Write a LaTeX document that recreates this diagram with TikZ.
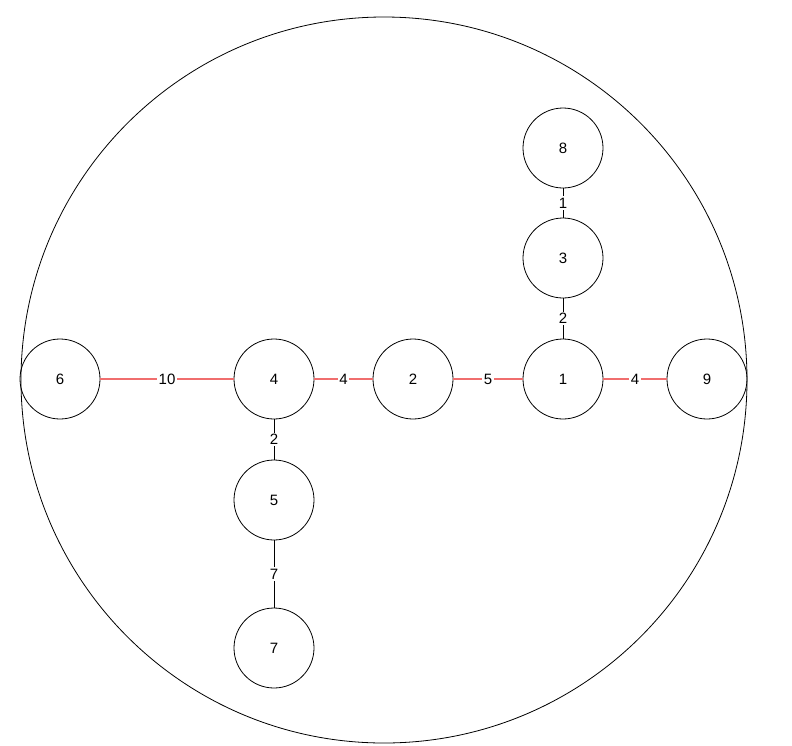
\documentclass[tikz,border=0pt]{standalone}
\usepackage{fontspec}
\setmainfont{Liberation Sans}
\begin{document}
\begin{tikzpicture}[x=1pt,y=-1pt,
  vert/.style={circle,draw=black,line width=0.8pt,minimum size=80pt,inner sep=0pt,font=\fontsize{15}{17}\selectfont},
  redge/.style={color={rgb,255:red,240;green,110;blue,110},line width=1.2pt},
  bedge/.style={color=black,line width=0.8pt},
  wlabel/.style={fill=white,text=black,inner sep=1.5pt,font=\fontsize{15}{17}\selectfont}]
\useasboundingbox (0,0) rectangle (792,745);
\draw[line width=0.8pt] (384,380) circle (363);
\node[vert] (n8) at (563,148) {8};
\node[vert] (n3) at (563,258) {3};
\node[vert] (n1) at (563,379) {1};
\node[vert] (n9) at (707,379) {9};
\node[vert] (n2) at (413,379) {2};
\node[vert] (n4) at (274,379) {4};
\node[vert] (n6) at (60,379) {6};
\node[vert] (n5) at (274,500) {5};
\node[vert] (n7) at (274,648) {7};
\draw[bedge] (n8) -- node[wlabel] {1} (n3);
\draw[bedge] (n3) -- node[wlabel] {2} (n1);
\draw[redge] (n1) -- node[wlabel] {4} (n9);
\draw[redge] (n2) -- node[wlabel] {5} (n1);
\draw[redge] (n4) -- node[wlabel] {4} (n2);
\draw[redge] (n6) -- node[wlabel] {10} (n4);
\draw[bedge] (n4) -- node[wlabel] {2} (n5);
\draw[bedge] (n5) -- node[wlabel] {7} (n7);
\end{tikzpicture}
\end{document}
